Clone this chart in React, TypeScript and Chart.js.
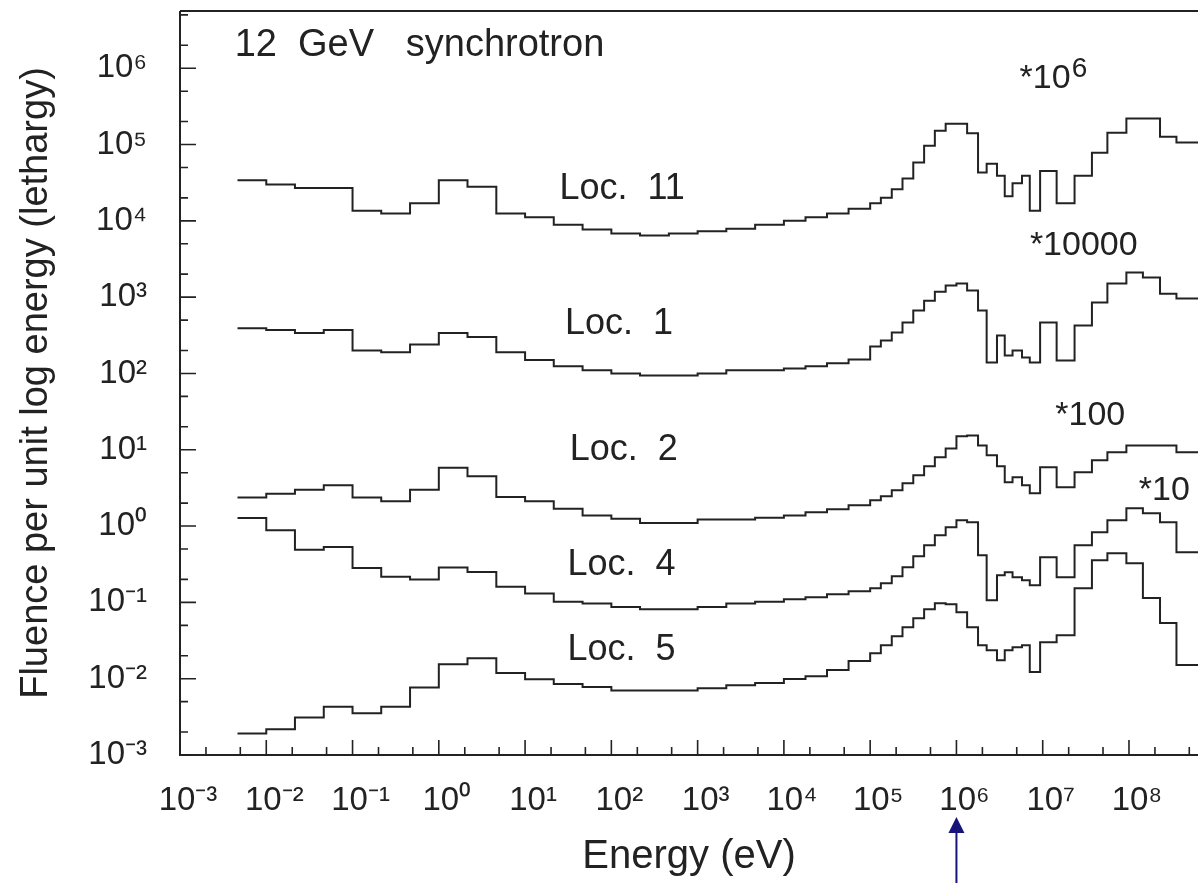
import React, { useEffect, useRef } from "react";
import { Chart, registerables } from "chart.js";

Chart.register(...registerables);

// Histogram bin edges (eV), shared by all locations
const energyEdges: number[] = [
  0.00464, 0.01, 0.0215, 0.0464, 0.1, 0.215, 0.464, 1, 2.15, 4.64, 10, 21.5, 46.4, 100, 215, 464, 1000, 2150, 4640,
  1e4, 17800, 31600, 56200, 1e5, 133000, 178000, 237000, 316000, 422000, 562000, 750000, 1e6, 1.33e6, 1.78e6,
  2.24e6, 2.95e6, 3.63e6, 4.47e6, 5.75e6, 7.08e6, 9.33e6, 1.45e7, 2.34e7, 3.72e7, 5.62e7, 9.33e7, 1.45e8, 2.29e8,
  3.55e8, 6.31e8,
];

// Fluence per unit lethargy (as plotted, scale factors included), one value per bin
const loc11: number[] = [
  3.4e4, 3.0e4, 2.7e4, 2.7e4, 1.36e4, 1.25e4, 1.7e4, 3.4e4, 2.8e4, 1.25e4, 1.11e4, 8.9e3, 7.7e3, 6.8e3, 6.4e3, 6.8e3,
  7.3e3, 7.9e3, 8.9e3, 1.0e4, 1.11e4, 1.25e4, 1.44e4, 1.7e4, 2.0e4, 2.6e4, 3.6e4, 5.8e4, 9.6e4, 1.52e5, 1.87e5,
  1.87e5, 1.4e5, 4.3e4, 5.6e4, 3.9e4, 2.1e4, 3.1e4, 3.9e4, 1.36e4, 4.5e4, 1.7e4, 3.9e4, 7.8e4, 1.43e5, 2.2e5, 2.2e5,
  1.26e5, 1.06e5,
];
const loc1: number[] = [
  390, 370, 340, 370, 200, 190, 240, 340, 300, 190, 150, 124, 110, 100, 94, 94, 100, 110, 110, 116, 124, 136, 152,
  225, 270, 344, 464, 668, 900, 1180, 1420, 1510, 1220, 668, 139, 314, 172, 200, 162, 139, 464, 148, 425, 849, 1510,
  2100, 1810, 1110, 960,
];
const loc2: number[] = [
  2.36, 2.66, 3.0, 3.42, 2.36, 2.11, 3.0, 5.83, 4.49, 2.4, 2.11, 1.69, 1.38, 1.25, 1.1, 1.1, 1.22, 1.22, 1.29, 1.38,
  1.52, 1.66, 1.87, 2.18, 2.45, 2.94, 3.63, 4.62, 6.07, 7.96, 10.4, 15.0, 15.4, 11.4, 8.45, 6.07, 3.74, 4.35, 3.42,
  2.69, 5.89, 3.22, 5.06, 7.26, 9.25, 11.4, 11.4, 11.4, 9.25,
];
const loc4: number[] = [
  1.28, 0.88, 0.49, 0.53, 0.283, 0.216, 0.2, 0.286, 0.251, 0.16, 0.131, 0.102, 0.097, 0.087, 0.081, 0.081, 0.087,
  0.097, 0.102, 0.11, 0.117, 0.128, 0.14, 0.153, 0.178, 0.22, 0.289, 0.403, 0.561, 0.758, 0.964, 1.19, 1.12, 0.415,
  0.107, 0.227, 0.248, 0.214, 0.195, 0.168, 0.391, 0.214, 0.561, 0.83, 1.19, 1.71, 1.47, 1.12, 0.454,
];
const loc5: number[] = [
  0.00192, 0.00217, 0.00311, 0.00429, 0.00352, 0.00429, 0.00769, 0.0155, 0.0185, 0.0119, 0.0098, 0.0085, 0.0078,
  0.007, 0.007, 0.007, 0.0075, 0.0082, 0.0088, 0.0099, 0.0108, 0.013, 0.017, 0.0216, 0.0275, 0.0361, 0.0473, 0.0621,
  0.0815, 0.0977, 0.0946, 0.0745, 0.0473, 0.0275, 0.0236, 0.0175, 0.0236, 0.0259, 0.0275, 0.0122, 0.0301, 0.0372,
  0.153, 0.356, 0.441, 0.326, 0.114, 0.0535, 0.0151,
];

const seriesNames = ["Loc. 11", "Loc. 1", "Loc. 2", "Loc. 4", "Loc. 5"];
const seriesValues = [loc11, loc1, loc2, loc4, loc5];

const xTickExponents = [-3, -2, -1, 0, 1, 2, 3, 4, 5, 6, 7, 8];
const yTickExponents = [-3, -2, -1, 0, 1, 2, 3, 4, 5, 6];
const X_MIN = 1e-3;
const X_MAX = 6.31e8;
const Y_MIN = 1e-3;
const Y_MAX = 5.62e6;

const annotations = [
  { text: "12  GeV   synchrotron", x: 4.3e-3, y: 1.96e6, size: 38 },
  { text: "Loc.  11", x: 25, y: 2.6e4, size: 36 },
  { text: "Loc.  1", x: 29, y: 4.4e2, size: 36 },
  { text: "Loc.  2", x: 33, y: 9.8, size: 36 },
  { text: "Loc.  4", x: 31, y: 0.31, size: 36 },
  { text: "Loc.  5", x: 31, y: 0.024, size: 36 },
];
const scaleNotes = [
  { base: "*10", sup: "6", x: 5.4e6, y: 7.3e5 },
  { base: "*10000", sup: "", x: 7.1e6, y: 4.7e3 },
  { base: "*100", sup: "", x: 1.4e7, y: 28 },
  { base: "*10", sup: "", x: 1.3e8, y: 2.9 },
];
const arrowEnergy = 1e6;

const FONT = "'Liberation Sans', Arial, sans-serif";
const TICK_FONT = "'Liberation Sans Narrow', 'Liberation Sans', Arial, sans-serif";
const INK = "#222222";

const SUP: Record<string, string> = {
  "-": "\u207B", "0": "\u2070", "1": "\u00B9", "2": "\u00B2", "3": "\u00B3", "4": "\u2074",
  "5": "\u2075", "6": "\u2076", "7": "\u2077", "8": "\u2078", "9": "\u2079",
};
const pow10Label = (e: number) => "10" + String(e).split("").map((c) => SUP[c]).join("");

const decorPlugin = {
  id: "decor",
  afterDraw(chart: any) {
    const { ctx, chartArea: a } = chart;
    const xs = chart.scales.x;
    const ys = chart.scales.y;
    ctx.save();
    ctx.strokeStyle = INK;
    ctx.lineWidth = 2;
    ctx.beginPath();
    ctx.moveTo(a.left, a.top);
    ctx.lineTo(a.right + 2, a.top);
    ctx.moveTo(a.left, a.top);
    ctx.lineTo(a.left, a.bottom);
    ctx.lineTo(a.right + 2, a.bottom);
    ctx.stroke();
    // inward ticks
    ctx.lineWidth = 1.6;
    ctx.beginPath();
    for (let e = -3; e <= 9; e++) {
      for (const m of [1, 2, 5]) {
        const v = m * Math.pow(10, e);
        if (v < X_MIN || v > X_MAX) continue;
        const px = xs.getPixelForValue(v);
        const len = m === 1 ? 15 : 8;
        ctx.moveTo(px, a.bottom);
        ctx.lineTo(px, a.bottom - len);
      }
    }
    for (let e = -3; e <= 7; e++) {
      for (const m of [1, 2, 5]) {
        const v = m * Math.pow(10, e);
        if (v < Y_MIN || v > Y_MAX) continue;
        const py = ys.getPixelForValue(v);
        const len = m === 1 ? 16 : 8;
        ctx.moveTo(a.left, py);
        ctx.lineTo(a.left + len, py);
      }
    }
    ctx.stroke();
    // text annotations
    ctx.fillStyle = INK;
    ctx.textBaseline = "middle";
    ctx.textAlign = "left";
    for (const t of annotations) {
      ctx.font = `${t.size}px ${FONT}`;
      ctx.fillText(t.text, xs.getPixelForValue(t.x), ys.getPixelForValue(t.y));
    }
    for (const n of scaleNotes) {
      const px = xs.getPixelForValue(n.x);
      const py = ys.getPixelForValue(n.y);
      ctx.font = `34px ${FONT}`;
      ctx.fillText(n.base, px, py);
      if (n.sup) {
        const w = ctx.measureText(n.base).width;
        ctx.font = `28px ${FONT}`;
        ctx.fillText(n.sup, px + w + 1, py - 9);
      }
    }
    // arrow marking 1 MeV
    const ax = xs.getPixelForValue(arrowEnergy);
    ctx.strokeStyle = "#14147a";
    ctx.fillStyle = "#14147a";
    ctx.lineWidth = 2;
    ctx.beginPath();
    ctx.moveTo(ax, chart.height);
    ctx.lineTo(ax, 830);
    ctx.stroke();
    ctx.beginPath();
    ctx.moveTo(ax, 817);
    ctx.lineTo(ax - 8, 833);
    ctx.lineTo(ax + 8, 833);
    ctx.closePath();
    ctx.fill();
    ctx.restore();
  },
};

export default function App() {
  const canvasRef = useRef<HTMLCanvasElement | null>(null);

  useEffect(() => {
    if (!canvasRef.current) return;
    const datasets = seriesValues.map((vals, k) => ({
      label: seriesNames[k],
      data: energyEdges.map((e, i) => ({ x: e, y: vals[Math.min(i, vals.length - 1)] })),
      borderColor: INK,
      borderWidth: 2,
      pointRadius: 0,
      fill: false,
      stepped: "before" as const,
    }));
    const chart = new Chart(canvasRef.current, {
      type: "line",
      data: { datasets },
      options: {
        responsive: false,
        animation: false,
        layout: { padding: { top: 11, right: 0, bottom: 0, left: 0 } },
        plugins: { legend: { display: false }, tooltip: { enabled: false } },
        scales: {
          x: {
            type: "logarithmic",
            position: "bottom",
            min: X_MIN,
            max: X_MAX,
            grid: { display: false, drawTicks: false },
            border: { display: false },
            afterBuildTicks: (s: any) => {
              s.ticks = xTickExponents.map((e) => ({ value: Math.pow(10, e) }));
            },
            afterFit: (s: any) => {
              s.height = 128;
              s.paddingLeft = 0;
              s.paddingRight = 0;
            },
            ticks: {
              autoSkip: false,
              maxRotation: 0,
              minRotation: 0,
              padding: 26,
              labelOffset: 8,
              color: INK,
              font: { family: TICK_FONT, size: 33 },
              callback: (v: any) => pow10Label(Math.round(Math.log10(Number(v)))),
            },
            title: {
              display: true,
              text: "Energy (eV)",
              color: INK,
              font: { family: FONT, size: 40 },
              padding: { top: 0, bottom: 2 },
            },
          },
          y: {
            type: "logarithmic",
            position: "left",
            min: Y_MIN,
            max: Y_MAX,
            grid: { display: false, drawTicks: false },
            border: { display: false },
            afterBuildTicks: (s: any) => {
              s.ticks = yTickExponents.map((e) => ({ value: Math.pow(10, e) }));
            },
            afterFit: (s: any) => {
              s.width = 180;
              s.paddingTop = 0;
              s.paddingBottom = 0;
            },
            ticks: {
              autoSkip: false,
              padding: 33,
              color: INK,
              font: { family: TICK_FONT, size: 33 },
              callback: (v: any) => pow10Label(Math.round(Math.log10(Number(v)))),
            },
            title: {
              display: true,
              text: "Fluence per unit log energy (lethargy)",
              color: INK,
              font: { family: FONT, size: 38 },
              padding: { top: 14, bottom: 0 },
            },
          },
        },
      },
      plugins: [decorPlugin],
    });
    return () => chart.destroy();
  }, []);

  return (
    <div style={{ position: "absolute", left: 0, top: 0, width: 1198, height: 883, background: "#fff" }}>
      <canvas ref={canvasRef} width={1198} height={883} style={{ display: "block" }} />
    </div>
  );
}
